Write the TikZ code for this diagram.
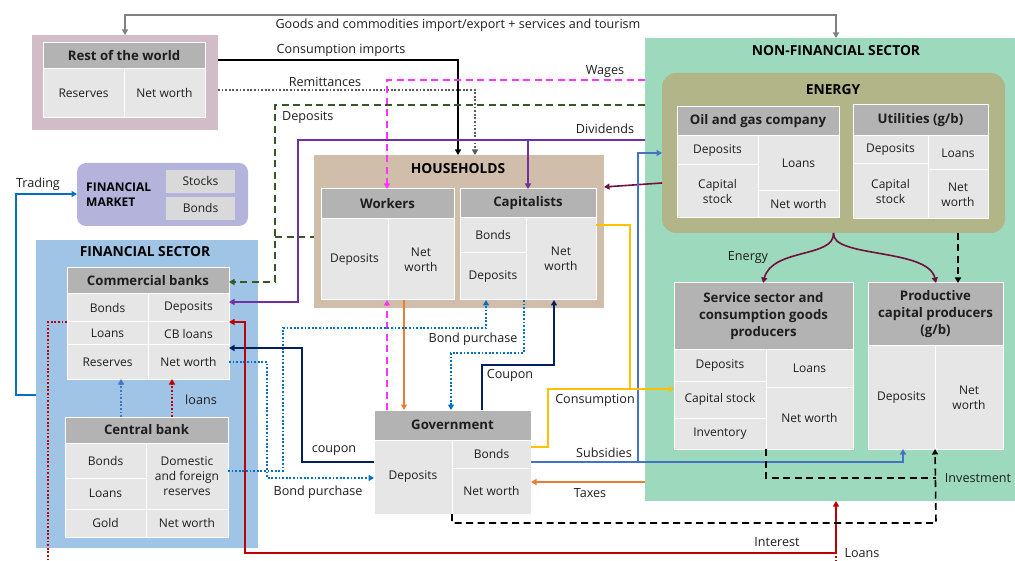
\documentclass[tikz,border=0pt]{standalone}
\usepackage{fontspec}
\setmainfont{Open Sans}
\usetikzlibrary{arrows.meta,calc}
\definecolor{rowbg}{RGB}{209,188,199}
\definecolor{hdr}{RGB}{179,179,179}
\definecolor{cellc}{RGB}{230,230,230}
\definecolor{fmbg}{RGB}{179,179,219}
\definecolor{fmcell}{RGB}{217,217,217}
\definecolor{fsbg}{RGB}{159,196,230}
\definecolor{hhbg}{RGB}{208,189,170}
\definecolor{nfbg}{RGB}{157,217,188}
\definecolor{enbg}{RGB}{178,181,136}
\definecolor{txt}{RGB}{30,30,30}
\definecolor{cgray}{RGB}{128,128,128}
\definecolor{cdgray}{RGB}{90,90,90}
\definecolor{cmag}{RGB}{255,51,255}
\definecolor{cdgreen}{RGB}{56,87,35}
\definecolor{cpurple}{RGB}{112,48,160}
\definecolor{cmaroon}{RGB}{112,16,64}
\definecolor{cblue}{RGB}{68,114,196}
\definecolor{cblue2}{RGB}{0,112,192}
\definecolor{cnavy}{RGB}{0,32,96}
\definecolor{corange}{RGB}{237,125,49}
\definecolor{cyellow}{RGB}{255,192,0}
\definecolor{cred}{RGB}{192,0,0}
\newcommand\myCell{\fontsize{12}{15}\selectfont}
\newcommand\myHead{\bfseries\fontsize{13.2}{17}\selectfont}
\newcommand\myLab{\fontsize{12.6}{14}\selectfont}
\newcommand\myTtl{\bfseries\fontsize{13.8}{16}\selectfont}
\newcommand\cellnode[7]{\node[#6, minimum width={(#4)*1pt-(#2)*1pt}, minimum height={(#5)*1pt-(#3)*1pt}] (#1) at ({((#2)+(#4))/2},{((#3)+(#5))/2}) {#7};}
\tikzset{
  base/.style={inner sep=1pt, outer sep=0pt, align=center, text=txt},
  cont/.style={base, draw=none},
  cell/.style={base, draw=white, line width=1pt, fill=cellc, font=\myCell},
  head/.style={cell, fill=hdr, font=\myHead},
  lab/.style={font=\myLab, inner sep=0pt, text=txt},
  ttl/.style={font=\myTtl, inner sep=0pt, text=black},
  ln/.style={line width=1.6pt},
  arr/.style={-{Triangle[length=5.5pt,width=6pt]}},
  barr/.style={{Triangle[length=5.5pt,width=6pt]}-{Triangle[length=5.5pt,width=6pt]}},
  dsh/.style={dash pattern=on 7pt off 4.5pt},
  dots/.style={dash pattern=on 1.8pt off 1.8pt, line width=1.8pt},
}
\begin{document}
\begin{tikzpicture}[x=1pt,y=-1pt]
\useasboundingbox (0,0) rectangle (1015,561);
\clip (0,0) rectangle (1015,561);
\fill[white] (0,0) rectangle (1015,561);

% ---------- containers and tables ----------
\cellnode{rowout}{32}{35}{218}{130}{cont,fill=rowbg}{}
\cellnode{rowh}{43}{43}{205}{69}{head}{Rest of the world}
\cellnode{rowres}{43}{69}{124}{118}{cell}{Reserves}
\cellnode{rownw}{124}{69}{205}{118}{cell}{Net worth}

\cellnode{fm}{77}{163}{248}{226}{cont,fill=fmbg,rounded corners=9pt}{}
\node[ttl, font=\bfseries\fontsize{12}{15}\selectfont, align=left, anchor=west] (fmt) at (86,195) {FINANCIAL\\MARKET};
\cellnode{stocks}{166}{170}{235}{193}{cell,fill=fmcell,draw=none}{Stocks}
\cellnode{bonds}{166}{197}{235}{220}{cell,fill=fmcell,draw=none}{Bonds}

\cellnode{fs}{36}{240}{258}{548}{cont,fill=fsbg}{}
\node[ttl] (fst) at (145,252) {FINANCIAL SECTOR};
\cellnode{cbh}{67}{268}{229}{294}{head}{Commercial banks}
\cellnode{cbbonds}{67}{294}{148}{322}{cell}{Bonds}
\cellnode{cbdep}{148}{294}{229}{322}{cell}{Deposits}
\cellnode{cbloans}{67}{322}{148}{345}{cell}{Loans}
\cellnode{cbcbl}{148}{322}{229}{345}{cell}{CB loans}
\cellnode{cbres}{67}{345}{148}{379}{cell}{Reserves}
\cellnode{cbnw}{148}{345}{229}{379}{cell}{Net worth}
\cellnode{cenh}{65}{417}{228}{443}{head}{Central bank}
\cellnode{cenbonds}{65}{443}{146}{478}{cell}{Bonds}
\cellnode{cenloans}{65}{478}{146}{509}{cell}{Loans}
\cellnode{cengold}{65}{509}{146}{537}{cell}{Gold}
\cellnode{cenres}{146}{443}{228}{509}{cell}{Domestic\\and foreign\\reserves}
\cellnode{cennw}{146}{509}{228}{537}{cell}{Net worth}

\cellnode{hh}{314}{155}{604}{308}{cont,fill=hhbg}{}
\node[ttl] (hht) at (458,169) {HOUSEHOLDS};
\cellnode{wh}{321}{189}{454}{219}{head}{Workers}
\cellnode{wdep}{321}{219}{388}{300}{cell}{Deposits}
\cellnode{wnw}{388}{219}{454}{300}{cell}{Net\\worth}
\cellnode{ch}{460}{189}{596}{218}{head}{Capitalists}
\cellnode{cbond}{460}{218}{526}{253}{cell}{Bonds}
\cellnode{cdep}{460}{253}{526}{300}{cell}{Deposits}
\cellnode{cnw}{526}{218}{596}{300}{cell}{Net\\worth}

\cellnode{gh}{374}{410}{531}{440}{head}{Government}
\cellnode{gdep}{374}{440}{452}{514}{cell}{Deposits}
\cellnode{gbonds}{452}{440}{531}{468}{cell}{Bonds}
\cellnode{gnw}{452}{468}{531}{514}{cell}{Net worth}

\cellnode{nfs}{645}{38}{1027}{501}{cont,fill=nfbg}{}
\node[ttl] (nfst) at (836,51) {NON-FINANCIAL SECTOR};
\cellnode{en}{662}{73}{1005}{233}{cont,fill=enbg,rounded corners=14pt}{}
\node[ttl] (ent) at (833,90) {ENERGY};
\cellnode{oh}{677}{107}{839}{136}{head}{Oil and gas company}
\cellnode{odep}{677}{136}{758}{165}{cell}{Deposits}
\cellnode{ocap}{677}{165}{758}{218}{cell}{Capital\\stock}
\cellnode{oloans}{758}{136}{839}{191}{cell}{Loans}
\cellnode{onw}{758}{191}{839}{218}{cell}{Net worth}
\cellnode{uh}{853}{105}{988}{136}{head}{Utilities (g/b)}
\cellnode{udep}{853}{136}{928}{164}{cell}{Deposits}
\cellnode{ucap}{853}{164}{928}{219}{cell}{Capital\\stock}
\cellnode{uloans}{928}{136}{988}{170}{cell}{Loans}
\cellnode{unw}{928}{170}{988}{219}{cell}{Net\\worth}
\cellnode{sh}{674}{283}{853}{350}{head}{Service sector and\\consumption goods\\producers}
\cellnode{sdep}{674}{350}{766}{381}{cell}{Deposits}
\cellnode{scap}{674}{381}{766}{418}{cell}{Capital stock}
\cellnode{sinv}{674}{418}{766}{449}{cell}{Inventory}
\cellnode{sloans}{766}{350}{853}{387}{cell}{Loans}
\cellnode{snw}{766}{387}{853}{449}{cell}{Net worth}
\cellnode{ph}{868}{283}{1003}{346}{head}{Productive\\capital producers\\(g/b)}
\cellnode{pdep}{868}{346}{935}{449}{cell}{Deposits}
\cellnode{pnw}{935}{346}{1003}{449}{cell}{Net\\worth}

% ---------- connectors ----------
% goods
\draw[ln,barr,cgray] (rowout.north) -- (125,15) -- (836,15) -- (nfs.north);
% consumption imports
\draw[ln,arr,black] (rowout.east |- 0,60) -- (458,60) -- (hh.north -| 458,0);
% remittances
\draw[dots,arr,cdgray] (rowout.east |- 0,90) -- (475,90) -- (hh.north -| 475,0);
% wages
\draw[ln,dsh,arr,cmag] (nfs.west |- 0,80) -- (387,80) -- (wh.north -| 387,0);
\draw[ln,dsh,arr,cmag] (gh.north -| 387,0) -- (wnw.south -| 387,0);
% deposits
\draw[ln,dsh,arr,cdgreen] (nfs.west |- 0,105) -- (275,105) -- (275,282) -- (cbh.east |- 0,282);
\draw[ln,dsh,cdgreen] (275,237) -- (hh.west |- 0,237);
% dividends
\draw[ln,arr,cpurple] (nfs.west |- 0,140) -- (298,140) -- (298,302) -- (cbdep.east |- 0,302);
\draw[ln,arr,cpurple] (528,140) -- (ch.north -| 528,0);
% energy to households
\draw[ln,arr,cmaroon] (en.west |- 0,183) -- (hh.east |- 0,187);
% subsidies
\draw[ln,arr,cblue] (gbonds.east |- 0,462) -- (903,462) -- (pdep.south -| 903,0);
\draw[ln,arr,cblue] (638,462) -- (638,153) -- (en.west |- 0,153);
% consumption
\draw[ln,arr,cyellow] (cnw.east |- 0,225) -- (630,225) -- (630,389) -- (scap.west |- 0,389);
\draw[ln,cyellow] (gbonds.east |- 0,447) -- (548,447) -- (548,389) -- (630,389);
% taxes
\draw[ln,arr,corange] (nfs.west |- 0,482) -- (gnw.east |- 0,482);
\draw[ln,arr,corange] (wnw.south -| 404,0) -- (gh.north -| 404,0);
% bond purchases
\draw[dots,arr,cblue2] (cenres.east |- 0,471) -- (283,471) -- (283,328) -- (486,328) -- (cdep.south -| 486,0);
\draw[dots,arr,cblue2] (cbnw.east |- 0,362) -- (267,362) -- (267,478) -- (gdep.west |- 0,478);
\draw[dots,arr,cblue2] (cdep.south -| 524,0) -- (524,353) -- (451,353) -- (gh.north -| 451,0);
% coupons
\draw[ln,arr,cnavy] (gh.north -| 482,0) -- (482,365) -- (554,365) -- (cnw.south -| 554,0);
\draw[ln,arr,cnavy] (gdep.west |- 0,462) -- (302,462) -- (302,348) -- (cbnw.east |- 0,348);
% loans / interest
\draw[ln,barr,cred] (cbcbl.north east) -- (245,322) -- (245,553) -- (836,553) -- (nfs.south);
\draw[dots,cred] (cbbonds.south west) -- (48,322) -- (48,570);
\draw[dots,cred] (836,556) -- (836,570);
\draw[dots,arr,cred] (cenh.north -| 172,0) -- (cbnw.south -| 172,0);
\draw[dots,arr,cblue] (cenh.north -| 121,0) -- (cbres.south -| 121,0);
% trading
\draw[ln,arr,cblue2] (fs.west |- 0,395) -- (16,395) -- (16,194) -- (fm.west |- 0,194);
% energy flows
\draw[ln,arr,cmaroon] (en.south) .. controls (835,258) and (772,248) .. (sh.north -| 763,0);
\draw[ln,arr,cmaroon] (en.south) .. controls (831,258) and (928,248) .. (ph.north -| 936,0);
\draw[ln,dsh,arr,black] (en.south -| 958,0) -- (ph.north -| 958,0);
% investment
\draw[ln,dsh,arr,black] (gdep.south east) -- (452,523) -- (936,523) -- (pdep.south east);
\draw[ln,dsh,black] (snw.south west) -- (766,478) -- (936,478);

% ---------- labels ----------
\node[lab] (lgoods) at (458,25) {Goods and commodities import/export + services and tourism};
\node[lab] (lcimp) at (341,50) {Consumption imports};
\node[lab] (lrem) at (325,82) {Remittances};
\node[lab,anchor=west] (ldep) at (282,117) {Deposits};
\node[lab] (lwag) at (605,72) {Wages};
\node[lab] (ldiv) at (605,129) {Dividends};
\node[lab] (ltrad) at (38,184) {Trading};
\node[lab] (lloans) at (201,400) {loans};
\node[lab] (lbp1) at (318,492) {Bond purchase};
\node[lab] (lcoup1) at (334,451) {coupon};
\node[lab] (lbp2) at (473,339) {Bond purchase};
\node[lab] (lcoup2) at (510,375) {Coupon};
\node[lab] (lcons) at (595,400) {Consumption};
\node[lab] (lsub) at (604,453) {Subsidies};
\node[lab] (ltax) at (590,493) {Taxes};
\node[lab] (lene) at (748,258) {Energy};
\node[lab] (linv) at (978,478) {Investment};
\node[lab] (lint) at (777,542) {Interest};
\node[lab] (lln) at (862,553) {Loans};
\end{tikzpicture}
\end{document}
